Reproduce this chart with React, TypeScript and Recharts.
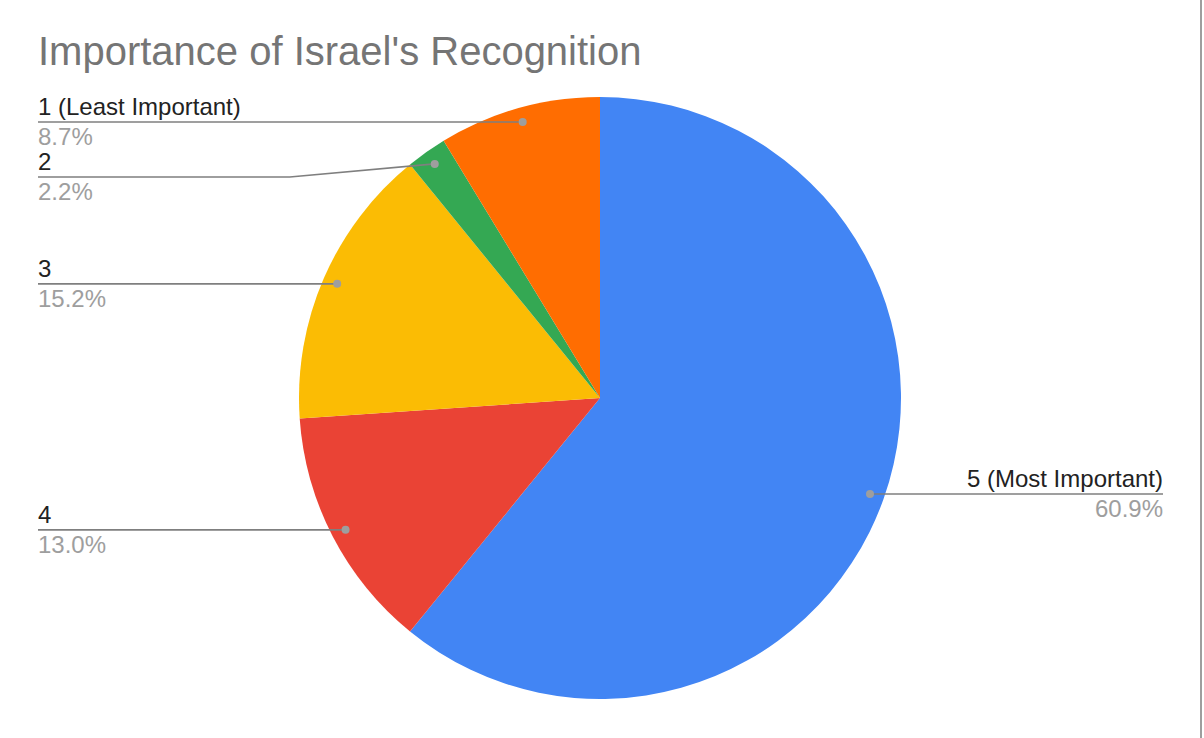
import React from "react";
import { PieChart, Pie, Cell } from "recharts";

const categories = ["5 (Most Important)", "4", "3", "2", "1 (Least Important)"];
const counts = [28, 6, 7, 1, 4];
const sliceColors = ["#4285F4", "#EA4335", "#FBBC04", "#34A853", "#FF6D01"];
const chartTitle = "Importance of Israel's Recognition";

const data = categories.map((name, i) => ({ name, value: counts[i] }));

const W = 1204;
const H = 738;
const CX = 600;
const CY = 398;
const R = 301;
const RADIAN = Math.PI / 180;
const FONT = "'Liberation Sans', Arial, Helvetica, sans-serif";
const LEFT_X = 38;
const RIGHT_X = 1163;
const MIN_GAP = 55;

const polar = (cx: number, cy: number, r: number, angle: number) => ({
  x: cx + Math.cos(-RADIAN * angle) * r,
  y: cy + Math.sin(-RADIAN * angle) * r,
});

// pre-compute label line heights (avoid overlapping labels on each side)
const total = counts.reduce((a, b) => a + b, 0);
const mids: number[] = [];
{
  let acc = 0;
  counts.forEach((v) => {
    const a = (v / total) * 360;
    mids.push(90 - (acc + a / 2));
    acc += a;
  });
}
const dotR = R * 0.952;
const dots = mids.map((m) => polar(CX, CY, dotR, m));
const lineYs: number[] = dots.map((d) => d.y);
[true, false].forEach((left) => {
  const idx = dots
    .map((d, i) => ({ d, i }))
    .filter((o) => (o.d.x < CX) === left)
    .sort((a, b) => a.d.y - b.d.y);
  let prev = -Infinity;
  idx.forEach((o) => {
    const y = Math.max(o.d.y, prev + MIN_GAP);
    lineYs[o.i] = y;
    prev = y;
  });
});

const renderLabel = (props: any) => {
  const { cx, cy, midAngle, outerRadius, percent, name, index } = props;
  const dot = polar(cx, cy, outerRadius * 0.952, midAngle);
  const left = dot.x < cx;
  const ly = lineYs[index];
  const tx = left ? LEFT_X : RIGHT_X;
  const bendX = left ? dot.x - 145 : dot.x + 145;
  const pts = `${tx},${ly} ${bendX},${ly} ${dot.x},${dot.y}`;
  return (
    <g key={`lbl-${index}`}>
      <polyline points={pts} fill="none" stroke="#7f7f7f" strokeWidth={1.6} />
      <circle cx={dot.x} cy={dot.y} r={4} fill="#9e9e9e" />
      <text
        x={tx}
        y={ly - 7}
        textAnchor={left ? "start" : "end"}
        fontFamily={FONT}
        fontSize={24}
        fill="#222222"
      >
        {name}
      </text>
      <text
        x={tx}
        y={ly + 23}
        textAnchor={left ? "start" : "end"}
        fontFamily={FONT}
        fontSize={24}
        fill="#9e9e9e"
      >
        {(percent * 100).toFixed(1)}%
      </text>
    </g>
  );
};

export default function App() {
  return (
    <div
      style={{
        position: "absolute",
        left: 0,
        top: 0,
        width: W,
        height: H,
        background: "#ffffff",
        overflow: "hidden",
      }}
    >
      <PieChart width={W} height={H} margin={{ top: 0, right: 0, bottom: 0, left: 0 }}>
        <Pie
          data={data}
          dataKey="value"
          nameKey="name"
          cx={CX}
          cy={CY}
          outerRadius={R}
          startAngle={90}
          endAngle={-270}
          stroke="none"
          label={renderLabel}
          labelLine={false}
          isAnimationActive={false}
        >
          {data.map((d, i) => (
            <Cell key={d.name} fill={sliceColors[i]} />
          ))}
        </Pie>
      </PieChart>
      <div
        style={{
          position: "absolute",
          left: 38,
          top: 31,
          fontFamily: FONT,
          fontSize: 40,
          lineHeight: "40px",
          color: "#757575",
          whiteSpace: "nowrap",
        }}
      >
        {chartTitle}
      </div>
      <div
        style={{
          position: "absolute",
          left: 1200,
          top: 0,
          width: 2,
          height: H,
          background: "#9e9e9e",
        }}
      />
    </div>
  );
}
